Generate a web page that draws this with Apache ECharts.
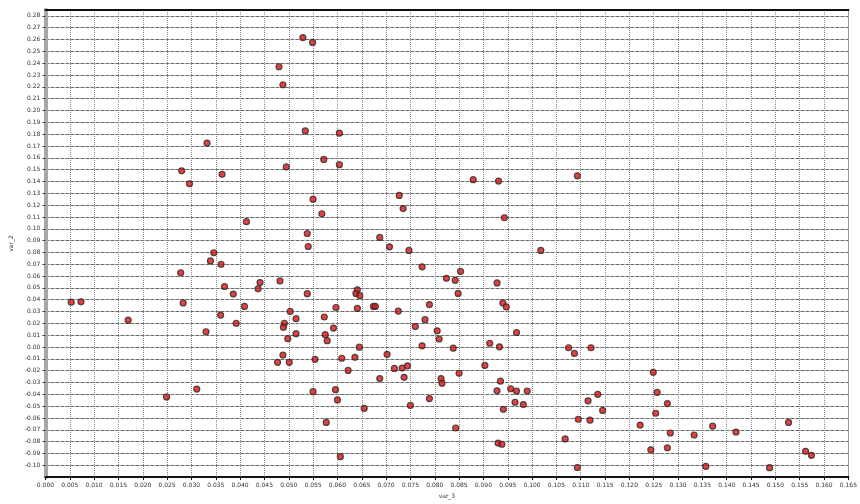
<!DOCTYPE html>
<html>
<head>
<meta charset="utf-8">
<script src="https://cdn.jsdelivr.net/npm/echarts@6/dist/echarts.min.js"></script>
<style>
  html, body { margin: 0; padding: 0; background: #fff; }
  #chart { width: 860px; height: 504px; }
</style>
</head>
<body>
<div id="chart"></div>
<script>
// var_3 (horizontal) and var_2 (vertical) values, one entry per observation
const var3 = [
  0.0053, 0.0073, 0.0170, 0.0249, 0.0280, 0.0296, 0.0332, 0.0363, 0.0480, 0.0488,
  0.0529, 0.0549, 0.0534, 0.0604, 0.0495, 0.0572, 0.0604, 0.0540, 0.0538, 0.0707,
  0.0346, 0.0339, 0.0361, 0.0278, 0.0441, 0.0482, 0.0368, 0.0437, 0.0538, 0.0386,
  0.0641, 0.0638, 0.0646, 0.0283, 0.0409, 0.0503, 0.0597, 0.0641, 0.0674, 0.0678,
  0.0725, 0.0360, 0.0515, 0.0573, 0.0392, 0.0491, 0.0489, 0.0592, 0.0330, 0.0515,
  0.0575, 0.0498, 0.0579, 0.0645, 0.0488, 0.0702, 0.0477, 0.0501, 0.0554, 0.0609,
  0.0636, 0.0622, 0.0717, 0.0733, 0.0687, 0.0311, 0.0550, 0.0596, 0.0600, 0.0655,
  0.0577, 0.0879, 0.0931, 0.1093, 0.0727, 0.0735, 0.0943, 0.0747, 0.1018, 0.0774,
  0.0853, 0.0824, 0.0842, 0.0928, 0.0848, 0.0940, 0.0947, 0.0789, 0.0780, 0.0760,
  0.0805, 0.0968, 0.0809, 0.0774, 0.0913, 0.0933, 0.0838, 0.1075, 0.1087, 0.1121,
  0.0744, 0.0737, 0.0903, 0.0850, 0.0813, 0.0815, 0.0935, 0.1249, 0.0928, 0.0956,
  0.0968, 0.0990, 0.0789, 0.1135, 0.1115, 0.0965, 0.1257, 0.0606, 0.0750, 0.0843,
  0.0930, 0.0938, 0.0941, 0.0982, 0.1093, 0.1068, 0.1095, 0.1119, 0.1145, 0.1222,
  0.1254, 0.1278, 0.1284, 0.1278, 0.1244, 0.1333, 0.1357, 0.1371, 0.1419, 0.1488,
  0.1527, 0.1562, 0.1574, 0.0568, 0.0550, 0.0413, 0.0687
];
const var2 = [
  0.0379, 0.0382, 0.0227, -0.0422, 0.1490, 0.1380, 0.1725, 0.1460, 0.2370, 0.2218,
  0.2617, 0.2576, 0.1827, 0.1808, 0.1523, 0.1586, 0.1542, 0.0850, 0.0960, 0.0847,
  0.0797, 0.0728, 0.0700, 0.0628, 0.0545, 0.0559, 0.0512, 0.0492, 0.0451, 0.0448,
  0.0484, 0.0453, 0.0434, 0.0373, 0.0343, 0.0301, 0.0334, 0.0326, 0.0343, 0.0343,
  0.0304, 0.0270, 0.0240, 0.0254, 0.0201, 0.0201, 0.0168, 0.0160, 0.0129, 0.0113,
  0.0104, 0.0071, 0.0054, -0.0001, -0.0068, -0.0062, -0.0129, -0.0129, -0.0104, -0.0095,
  -0.0087, -0.0198, -0.0181, -0.0178, -0.0267, -0.0356, -0.0378, -0.0361, -0.0447, -0.0519,
  -0.0638, 0.1415, 0.1403, 0.1448, 0.1282, 0.1171, 0.1093, 0.0817, 0.0817, 0.0678,
  0.0639, 0.0581, 0.0564, 0.0542, 0.0453, 0.0373, 0.0339, 0.0359, 0.0231, 0.0173,
  0.0137, 0.0123, 0.0068, 0.0010, 0.0032, 0.0002, -0.0010, -0.0006, -0.0054, -0.0006,
  -0.0159, -0.0256, -0.0156, -0.0222, -0.0267, -0.0306, -0.0289, -0.0214, -0.0370, -0.0353,
  -0.0372, -0.0372, -0.0436, -0.0400, -0.0455, -0.0467, -0.0384, -0.0927, -0.0494, -0.0685,
  -0.0812, -0.0822, -0.0527, -0.0487, -0.1019, -0.0777, -0.0611, -0.0619, -0.0536, -0.0660,
  -0.0560, -0.0478, -0.0727, -0.0852, -0.0869, -0.0744, -0.1010, -0.0669, -0.0719, -0.1020,
  -0.0638, -0.0882, -0.0916, 0.1127, 0.1250, 0.1060, 0.0927
];

// axis ranges and tick spacing
const xRange = [0, 0.165, 0.005];
const yRange = [-0.11, 0.285, 0.01];

const points = var3.map((x, i) => [x, var2[i]]);

function fmt(v, d) {
  if (Math.abs(v) < 1e-9) v = 0;
  return v.toFixed(d);
}

const labelFont = { fontSize: 6, color: '#333', fontFamily: 'DejaVu Sans' };

const chart = echarts.init(document.getElementById('chart'), null, { renderer: 'canvas' });
chart.setOption({
  animation: false,
  backgroundColor: '#fff',
  grid: { left: 37, right: 7, top: 10, bottom: 19 },
  xAxis: [
    {
      type: 'value',
      min: xRange[0], max: xRange[1], interval: xRange[2],
      name: 'var_3', nameLocation: 'middle', nameGap: 13,
      nameTextStyle: labelFont,
      axisLine: { onZero: false, lineStyle: { color: '#111', width: 2 } },
      axisTick: { length: 3, lineStyle: { color: '#111' } },
      axisLabel: Object.assign({ margin: 5, formatter: v => fmt(v, 3) }, labelFont),
      splitLine: { show: true, lineStyle: { type: [1, 1], color: '#8a8a8a', width: 1 } }
    },
    {
      type: 'value', position: 'top',
      min: xRange[0], max: xRange[1], interval: xRange[2],
      axisLine: { show: true, onZero: false, lineStyle: { color: '#111', width: 2 } },
      axisTick: { show: false }, axisLabel: { show: false }, splitLine: { show: false }
    }
  ],
  yAxis: [
    {
      type: 'value',
      min: yRange[0], max: yRange[1], interval: yRange[2],
      name: 'var_2', nameLocation: 'middle', nameGap: 28,
      nameTextStyle: labelFont,
      axisLine: { show: true, onZero: false, lineStyle: { color: '#a8a8a8', width: 4 } },
      axisTick: { show: true, length: 3, lineStyle: { color: '#444' } },
      axisLabel: Object.assign({ margin: 5, showMinLabel: false, showMaxLabel: false,
        formatter: v => fmt(v, 2) }, labelFont),
      splitLine: { show: true, lineStyle: { type: [4, 1], color: '#6a6a6a', width: 1 } }
    },
    {
      type: 'value', position: 'right',
      min: yRange[0], max: yRange[1], interval: yRange[2],
      axisLine: { show: true, onZero: false, lineStyle: { color: '#999', width: 1 } },
      axisTick: { show: false }, axisLabel: { show: false }, splitLine: { show: false }
    }
  ],
  series: [
    {
      type: 'scatter',
      data: points,
      symbol: 'circle',
      symbolSize: 6,
      itemStyle: { color: '#e01010', borderColor: '#2a2a2a', borderWidth: 1.2 }
    }
  ]
});
</script>
</body>
</html>
